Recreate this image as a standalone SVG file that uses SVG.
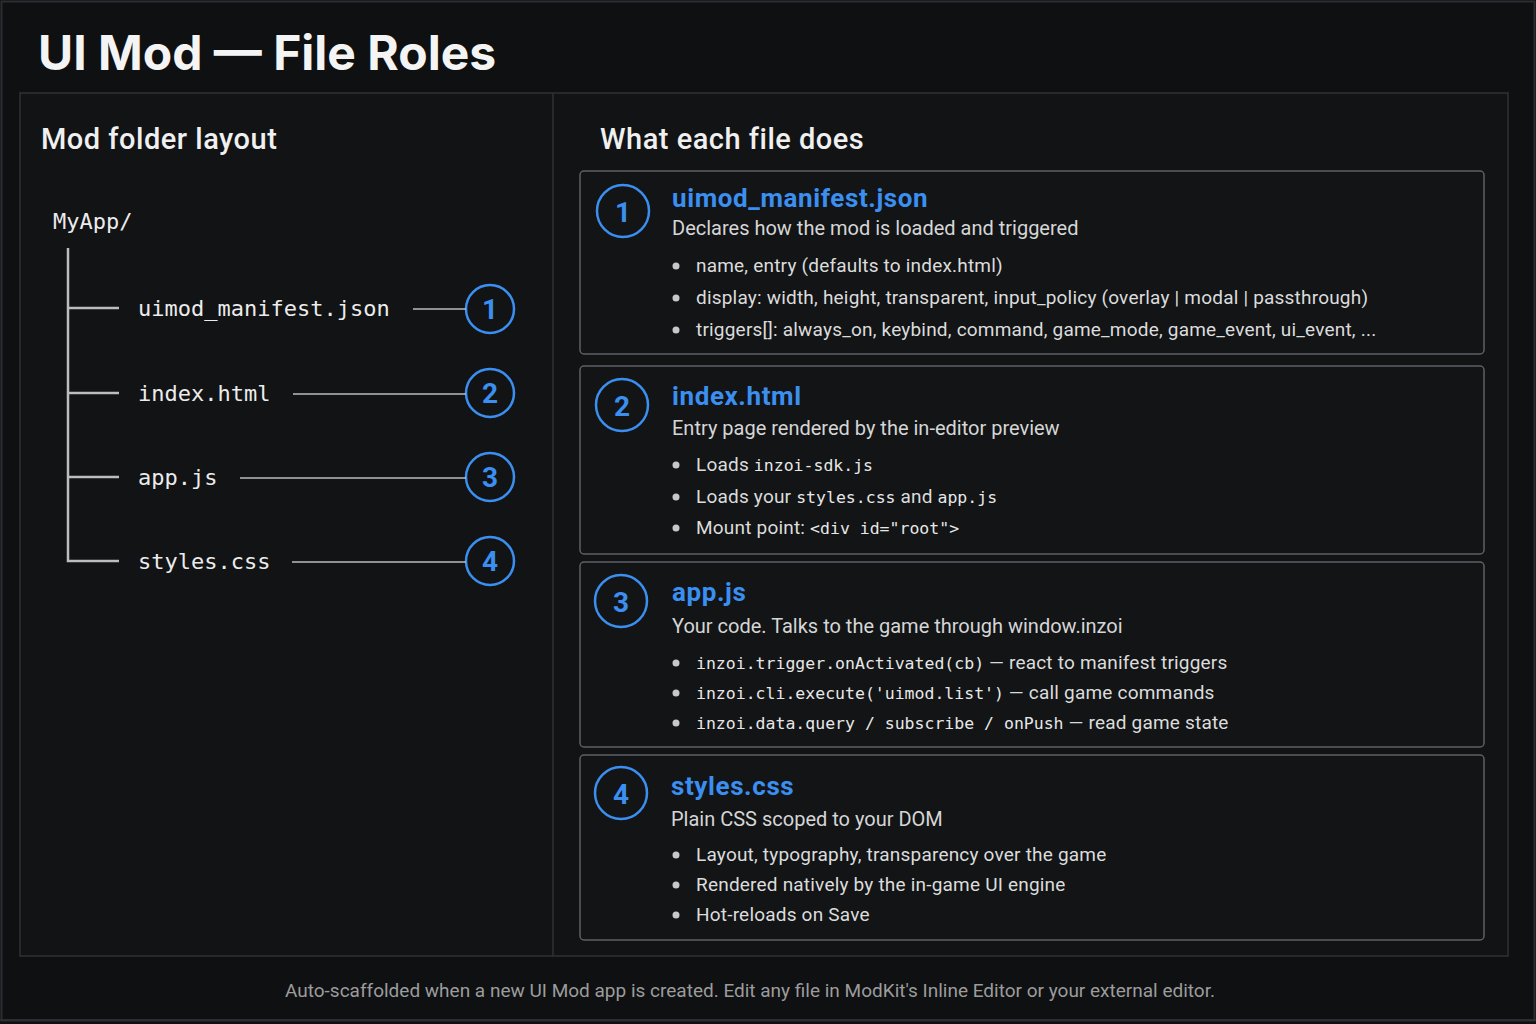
<svg xmlns="http://www.w3.org/2000/svg" width="1536" height="1024" viewBox="0 0 1536 1024">
<style>
.title{font-family:Inter,Roboto,"Liberation Sans",sans-serif;font-weight:700;font-size:48px;fill:#f4f4f4}
.h2{font-family:Roboto,Inter,"Liberation Sans",sans-serif;font-weight:500;font-size:29px;letter-spacing:0.5px;fill:#f0f0f0}
.mono{font-family:"DejaVu Sans Mono","Liberation Mono",monospace;font-size:22px;fill:#ececec}
.num{font-family:Roboto,Inter,"Liberation Sans",sans-serif;font-weight:700;font-size:28px;fill:#3b8ff0;text-anchor:middle}
.ring{fill:none;stroke:#3b8ff0;stroke-width:2.5}
.tree{stroke:#bdbdbd;stroke-width:2.5;fill:none}
.conn{stroke:#bdbdbd;stroke-width:1.6;fill:none}
.card{fill:#121416;stroke:#5c6065;stroke-width:1.5}
.ctitle{font-family:Roboto,Inter,"Liberation Sans",sans-serif;font-weight:700;font-size:26px;letter-spacing:0.6px;fill:#3b8ff0}
.desc{font-family:Roboto,"Liberation Sans",sans-serif;font-size:20px;fill:#d6d6d6}
.bul{font-family:Roboto,"Liberation Sans",sans-serif;font-size:19px;letter-spacing:0.2px;fill:#dcdcdc}
.cm{font-family:"DejaVu Sans Mono","Liberation Mono",monospace;font-size:16.5px;letter-spacing:0;fill:#e8e8e8}
.dot{fill:#c8c8c8}
.foot{font-family:Roboto,"Liberation Sans",sans-serif;font-size:19px;fill:#9c9c9c;text-anchor:middle}
</style>
<rect x="0" y="0" width="1536" height="1024" fill="#0e1012"/>
<rect x="1.5" y="1.5" width="1533" height="1019" fill="none" stroke="#2a2d31" stroke-width="2"/>
<text class="title" x="38" y="70">UI Mod — File Roles</text>
<rect x="20" y="93" width="1488" height="863" fill="#111315" stroke="#2e3236" stroke-width="1.5"/>
<line x1="553" y1="93" x2="553" y2="956" stroke="#2e3236" stroke-width="1.5"/>
<line x1="0" y1="1020" x2="1536" y2="1020" stroke="#2e3236" stroke-width="1.5"/>

<g id="left-panel">
<text class="h2" x="41" y="149">Mod folder layout</text>
<text class="mono" x="53" y="229">MyApp/</text>
<path class="tree" d="M68 248 V561 H119 M68 308 H119 M68 393 H119 M68 477 H119"/>
</g>

<g id="tree-file-1">
<text class="mono" x="138" y="316">uimod_manifest.json</text>
<circle class="ring" cx="490" cy="309" r="24"/>
<text class="num" x="490" y="319">1</text>
</g>
<g id="tree-file-2">
<text class="mono" x="138" y="401">index.html</text>
<circle class="ring" cx="490" cy="393" r="24"/>
<text class="num" x="490" y="403">2</text>
</g>
<g id="tree-file-3">
<text class="mono" x="138" y="485">app.js</text>
<circle class="ring" cx="490" cy="477" r="24"/>
<text class="num" x="490" y="487">3</text>
</g>
<g id="tree-file-4">
<text class="mono" x="138" y="569">styles.css</text>
<circle class="ring" cx="490" cy="561" r="24"/>
<text class="num" x="490" y="571">4</text>
</g>

<g id="connectors">
<line class="conn" x1="413" y1="309" x2="466" y2="309"/>
<line class="conn" x1="293" y1="394" x2="466" y2="394"/>
<line class="conn" x1="240" y1="478" x2="466" y2="478"/>
<line class="conn" x1="292" y1="562" x2="466" y2="562"/>
</g>

<text class="h2" x="600" y="149">What each file does</text>

<g id="card-1">
<rect class="card" x="580" y="171" width="904" height="183" rx="4"/>
<circle class="ring" cx="623" cy="211" r="26"/>
<text class="num" x="623" y="222" font-size="30">1</text>
<text class="ctitle" x="672" y="207">uimod_manifest.json</text>
<text class="desc" x="672" y="235">Declares how the mod is loaded and triggered</text>
<circle class="dot" cx="676" cy="266" r="3.5"/>
<text class="bul" x="696" y="272">name, entry (defaults to index.html)</text>
<circle class="dot" cx="676" cy="298" r="3.5"/>
<text class="bul" x="696" y="304">display: width, height, transparent, input_policy (overlay | modal | passthrough)</text>
<circle class="dot" cx="676" cy="330" r="3.5"/>
<text class="bul" x="696" y="336">triggers[]: always_on, keybind, command, game_mode, game_event, ui_event, ...</text>
</g>

<g id="card-2">
<rect class="card" x="580" y="366" width="904" height="188" rx="4"/>
<circle class="ring" cx="622" cy="405" r="26"/>
<text class="num" x="622" y="416" font-size="30">2</text>
<text class="ctitle" x="672" y="405">index.html</text>
<text class="desc" x="672" y="435">Entry page rendered by the in-editor preview</text>
<circle class="dot" cx="676" cy="465" r="3.5"/>
<text class="bul" x="696" y="471">Loads <tspan class="cm">inzoi-sdk.js</tspan></text>
<circle class="dot" cx="676" cy="497" r="3.5"/>
<text class="bul" x="696" y="503">Loads your <tspan class="cm">styles.css</tspan> and <tspan class="cm">app.js</tspan></text>
<circle class="dot" cx="676" cy="528" r="3.5"/>
<text class="bul" x="696" y="534">Mount point: <tspan class="cm">&lt;div id="root"&gt;</tspan></text>
</g>

<g id="card-3">
<rect class="card" x="580" y="562" width="904" height="185" rx="4"/>
<circle class="ring" cx="621" cy="601" r="26"/>
<text class="num" x="621" y="612" font-size="30">3</text>
<text class="ctitle" x="672" y="601">app.js</text>
<text class="desc" x="672" y="633">Your code. Talks to the game through window.inzoi</text>
<circle class="dot" cx="676" cy="663" r="3.5"/>
<text class="bul" x="696" y="669"><tspan class="cm">inzoi.trigger.onActivated(cb)</tspan>  — react to manifest triggers</text>
<circle class="dot" cx="676" cy="693" r="3.5"/>
<text class="bul" x="696" y="699"><tspan class="cm">inzoi.cli.execute('uimod.list')</tspan> — call game commands</text>
<circle class="dot" cx="676" cy="723" r="3.5"/>
<text class="bul" x="696" y="729"><tspan class="cm">inzoi.data.query / subscribe / onPush</tspan> — read game state</text>
</g>

<g id="card-4">
<rect class="card" x="580" y="755" width="904" height="185" rx="4"/>
<circle class="ring" cx="621" cy="793" r="26"/>
<text class="num" x="621" y="804" font-size="30">4</text>
<text class="ctitle" x="671" y="795">styles.css</text>
<text class="desc" x="671" y="826">Plain CSS scoped to your DOM</text>
<circle class="dot" cx="676" cy="855" r="3.5"/>
<text class="bul" x="696" y="861">Layout, typography, transparency over the game</text>
<circle class="dot" cx="676" cy="885" r="3.5"/>
<text class="bul" x="696" y="891">Rendered natively by the in-game UI engine</text>
<circle class="dot" cx="676" cy="915" r="3.5"/>
<text class="bul" x="696" y="921">Hot-reloads on Save</text>
</g>

<text class="foot" x="750" y="997">Auto-scaffolded when a new UI Mod app is created. Edit any file in ModKit's Inline Editor or your external editor.</text>
</svg>
